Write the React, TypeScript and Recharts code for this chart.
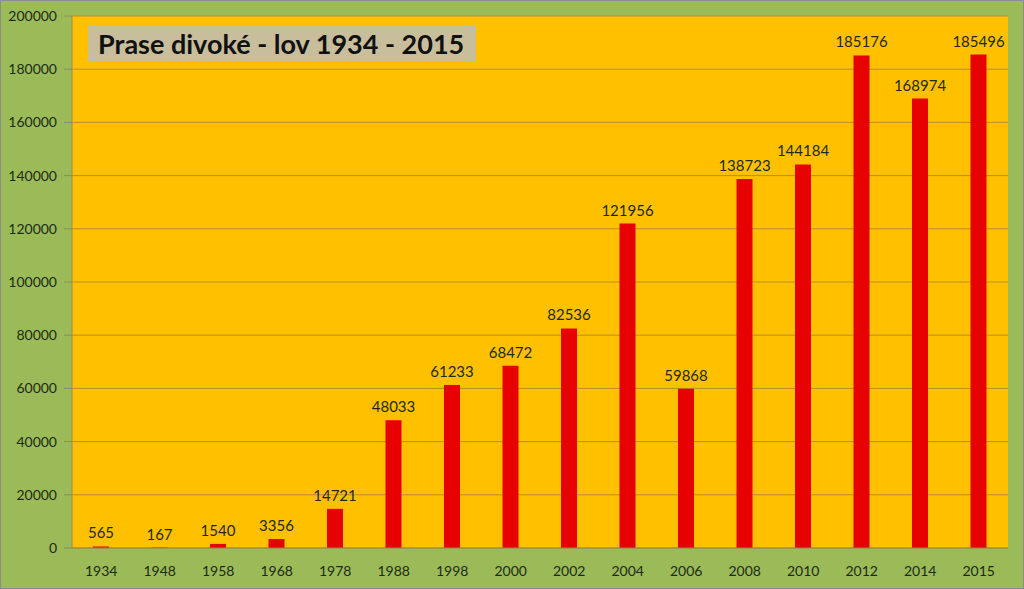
import { BarChart, Bar, XAxis, YAxis, CartesianGrid, LabelList } from 'recharts';

const years = ['1934', '1948', '1958', '1968', '1978', '1988', '1998', '2000', '2002', '2004', '2006', '2008', '2010', '2012', '2014', '2015'];
const hunted = [565, 167, 1540, 3356, 14721, 48033, 61233, 68472, 82536, 121956, 59868, 138723, 144184, 185176, 168974, 185496];
const yTicks = [0, 20000, 40000, 60000, 80000, 100000, 120000, 140000, 160000, 180000, 200000];

const data = years.map((year, i) => ({ year, value: hunted[i] }));

const FONT = 'Lato, "Open Sans", sans-serif';
const TEXT = '#1d2a12';

export default function App() {
  return (
    <div style={{
      position: 'absolute', left: 0, top: 0,
      width: 1024, height: 589,
      background: '#9BBB59',
      boxSizing: 'border-box',
      border: '1px solid #8c8c8c',
      fontFamily: FONT,
    }}>
      <BarChart
        width={1022}
        height={587}
        data={data}
        margin={{ top: 15, right: 15, left: 0, bottom: 0 }}
        barSize={16}
      >
        <CartesianGrid
          vertical={false}
          stroke="#b88e2a"
          fill="#FFC000"
          fillOpacity={1}
        />
        <XAxis
          dataKey="year"
          height={40}
          tick={{ fontSize: 14, fill: TEXT, fontFamily: FONT }}
          tickLine={false}
          axisLine={{ stroke: '#9a8a50' }}
          tickMargin={12}
        />
        <YAxis
          domain={[0, 200000]}
          ticks={yTicks}
          width={71}
          tick={{ fontSize: 14, fill: TEXT, fontFamily: FONT }}
          tickLine={{ stroke: '#8a8a60' }}
          tickSize={8}
          tickMargin={7}
          axisLine={{ stroke: '#9a8a50' }}
          interval={0}
        />
        <Bar dataKey="value" fill="#E60000" isAnimationActive={false}>
          <LabelList
            dataKey="value"
            position="top"
            offset={8}
            style={{ fontSize: 15, fill: TEXT, fontFamily: FONT }}
          />
        </Bar>
      </BarChart>
      <div style={{
        position: 'absolute',
        left: 87, top: 24,
        width: 388, height: 37,
        background: '#C8BE9B',
        display: 'flex',
        alignItems: 'center',
        paddingLeft: 10,
        boxSizing: 'border-box',
        fontWeight: 700,
        fontSize: 27,
        color: '#111',
        whiteSpace: 'nowrap',
      }}>
        Prase divoké - lov 1934 - 2015
      </div>
    </div>
  );
}
